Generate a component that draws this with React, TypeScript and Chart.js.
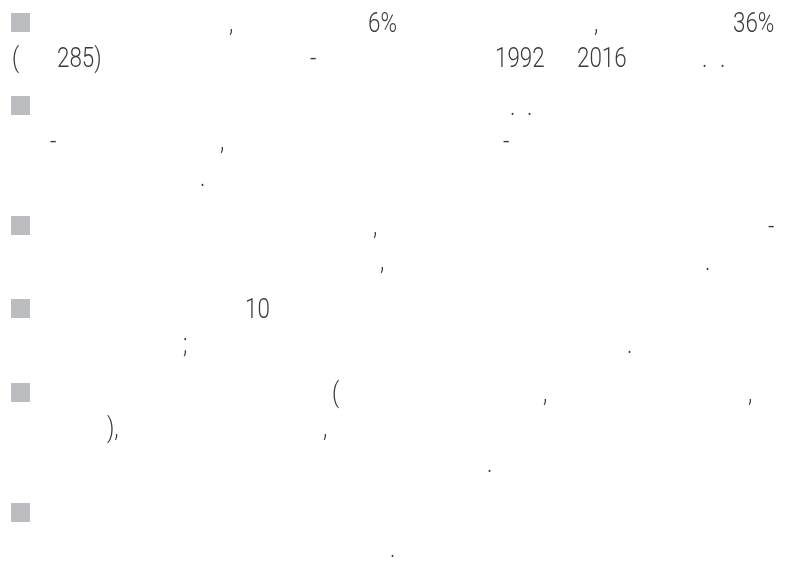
import React, { useEffect, useRef } from "react";
import { Chart, registerables } from "chart.js";

Chart.register(...registerables);

// Baselines (page y, px) of each text line on the slide
const lineBaselines = [32, 67, 115, 150, 186, 235, 270, 318, 353, 402, 437, 472, 522, 557];
// Lines that start with a bullet square
const bulletLines = [0, 2, 5, 7, 9, 12];
// Visible text fragments: [line index, x, text]
const fragLines = [0, 0, 0, 0, 1, 1, 1, 1, 1, 1, 1, 2, 2, 3, 3, 3, 4, 5, 5, 6, 6, 7, 8, 8, 9, 9, 9, 10, 10, 11, 13];
const fragX = [229, 368, 594, 733, 12, 57, 310, 495, 577, 702, 720, 510, 527, 50, 220, 503, 200, 373, 768, 380, 705, 245, 183, 627, 332, 543, 748, 107, 323, 487, 390];
const fragText = [",", "6%", ",", "36%", "(", "285)", "-", "1992", "2016", ".", ".", ".", ".", "-", ",", "-", ".", ",", "-", ",", ".", "10", ";", ".", "(", ",", ",", "),", ",", ".", "."];

const BULLET_X = 20.5;

export default function App() {
  const ref = useRef<HTMLCanvasElement | null>(null);
  useEffect(() => {
    document.body.style.margin = "0";
    const canvas = ref.current;
    if (!canvas) return;
    const textPlugin = {
      id: "slideText",
      afterDatasetsDraw(chart: any) {
        const { ctx, scales } = chart;
        ctx.save();
        ctx.font = "300 28px Roboto, 'Liberation Sans', sans-serif";
        ctx.fillStyle = "#3c3c3c";
        ctx.textAlign = "left";
        ctx.textBaseline = "alphabetic";
        for (let i = 0; i < fragText.length; i++) {
          const px = scales.x.getPixelForValue(fragX[i]);
          const py = scales.y.getPixelForValue(lineBaselines[fragLines[i]]);
          ctx.save();
          ctx.translate(px, py);
          ctx.scale(0.8, 1);
          ctx.fillText(fragText[i], 0, 0);
          ctx.restore();
        }
        ctx.restore();
      },
    };
    const chart = new Chart(canvas, {
      type: "scatter",
      data: {
        datasets: [
          {
            data: bulletLines.map((l) => ({ x: BULLET_X, y: lineBaselines[l] - 9.5 })),
            pointStyle: "rect",
            pointRadius: 13.44,
            pointHoverRadius: 13.44,
            pointBackgroundColor: "#bcbdc1",
            pointBorderWidth: 0,
            borderWidth: 0,
            clip: false,
          },
        ],
      },
      options: {
        animation: false,
        responsive: false,
        events: [],
        layout: { padding: 0, autoPadding: false },
        plugins: { legend: { display: false }, tooltip: { enabled: false } },
        scales: {
          x: { type: "linear", min: 0, max: 791, display: false },
          y: { type: "linear", min: 0, max: 562, reverse: true, display: false },
        },
      },
      plugins: [textPlugin],
    });
    return () => chart.destroy();
  }, []);
  return (
    <div style={{ position: "fixed", left: 0, top: 0, width: 791, height: 562, background: "#fff" }}>
      <canvas ref={ref} width={791} height={562} style={{ display: "block", width: 791, height: 562 }} />
    </div>
  );
}
